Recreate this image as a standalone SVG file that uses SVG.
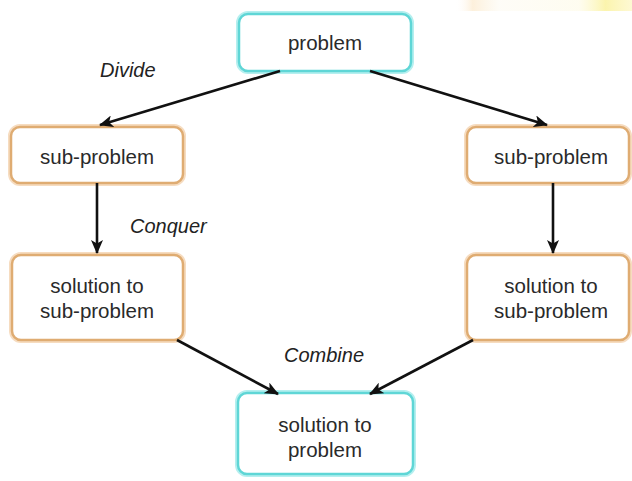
<svg xmlns="http://www.w3.org/2000/svg" width="632" height="481" viewBox="0 0 632 481">
  <defs>
    <marker id="arrow" markerUnits="userSpaceOnUse" markerWidth="14" markerHeight="12" refX="13" refY="6" orient="auto">
      <path d="M0,0 L14,6 L0,12 L3.5,6 z" fill="#111"/>
    </marker>
    <linearGradient id="blob" x1="0" y1="0" x2="1" y2="0">
      <stop offset="0" stop-color="#fff" stop-opacity="0"/>
      <stop offset="0.1" stop-color="#fbe6c4" stop-opacity="0.6"/>
      <stop offset="0.25" stop-color="#fdfaf0" stop-opacity="0.5"/>
      <stop offset="0.7" stop-color="#fefbe6" stop-opacity="0.6"/>
      <stop offset="0.85" stop-color="#fbf3a4" stop-opacity="0.9"/>
      <stop offset="1" stop-color="#fdf6c0" stop-opacity="0.7"/>
    </linearGradient>
    <style>
      .glow-c { fill: none; stroke: #b5efef; stroke-width: 6; }
      .box-c { fill: #ffffff; stroke: #5fd6d6; stroke-width: 2.5; }
      .glow-o { fill: none; stroke: #f6dcc0; stroke-width: 6; }
      .box-o { fill: #ffffff; stroke: #dfac72; stroke-width: 2.5; }
      .t { font-family: "Liberation Sans", Arial, sans-serif; font-size: 20.5px; fill: #2a2a2a; text-anchor: middle; }
      .lbl { font-family: "Liberation Sans", Arial, sans-serif; font-size: 20px; font-style: italic; fill: #222; }
      .edge { fill: none; stroke: #111; stroke-width: 2.6; marker-end: url(#arrow); }
    </style>
  </defs>
  <rect width="632" height="481" fill="#ffffff"/>
  <rect x="455" y="0" width="177" height="11" fill="url(#blob)"/>

  <g id="problem">
    <rect class="glow-c" x="239" y="14" width="172" height="57" rx="9"/>
    <rect class="box-c" x="239" y="14" width="172" height="57" rx="9"/>
    <text class="t" x="325" y="50">problem</text>
  </g>

  <g id="sub-left">
    <rect class="glow-o" x="11" y="127" width="172" height="56" rx="9"/>
    <rect class="box-o" x="11" y="127" width="172" height="56" rx="9"/>
    <text class="t" x="97" y="164">sub-problem</text>
  </g>

  <g id="sub-right">
    <rect class="glow-o" x="467" y="127" width="162" height="56" rx="9"/>
    <rect class="box-o" x="467" y="127" width="162" height="56" rx="9"/>
    <text class="t" x="551" y="164">sub-problem</text>
  </g>

  <g id="sol-left">
    <rect class="glow-o" x="12" y="255" width="171" height="85" rx="9"/>
    <rect class="box-o" x="12" y="255" width="171" height="85" rx="9"/>
    <text class="t" x="97" y="293">solution to</text>
    <text class="t" x="97" y="318">sub-problem</text>
  </g>

  <g id="sol-right">
    <rect class="glow-o" x="467" y="255" width="162" height="85" rx="9"/>
    <rect class="box-o" x="467" y="255" width="162" height="85" rx="9"/>
    <text class="t" x="551" y="293">solution to</text>
    <text class="t" x="551" y="318">sub-problem</text>
  </g>

  <g id="solution">
    <rect class="glow-c" x="238" y="393" width="175" height="81" rx="9"/>
    <rect class="box-c" x="238" y="393" width="175" height="81" rx="9"/>
    <text class="t" x="325" y="432">solution to</text>
    <text class="t" x="325" y="457">problem</text>
  </g>

  <g id="connectors">
    <line class="edge" x1="280" y1="71" x2="100" y2="125"/>
    <line class="edge" x1="370" y1="71" x2="547" y2="125"/>
    <line class="edge" x1="97" y1="183" x2="97" y2="253"/>
    <line class="edge" x1="553" y1="183" x2="553" y2="253"/>
    <line class="edge" x1="177" y1="340" x2="278" y2="394"/>
    <line class="edge" x1="473" y1="340" x2="370" y2="394"/>
  </g>

  <g id="labels">
    <text class="lbl" x="100" y="77">Divide</text>
    <text class="lbl" x="130" y="233">Conquer</text>
    <text class="lbl" x="284" y="362">Combine</text>
  </g>
</svg>
